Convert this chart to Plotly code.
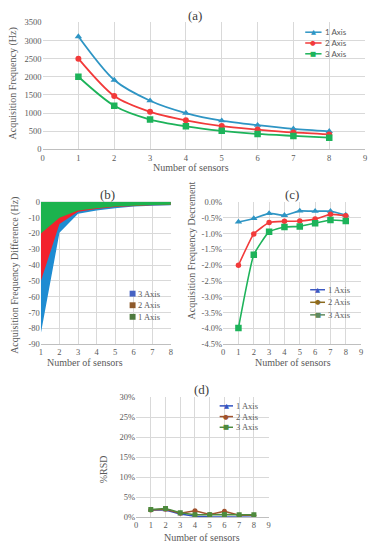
import plotly.graph_objects as go

W, H = 374, 550
sensors = [1, 2, 3, 4, 5, 6, 7, 8]
series = ["1 Axis", "2 Axis", "3 Axis"]

# (a) Acquisition frequency (Hz)
a_1 = [3110, 1910, 1340, 1000, 790, 665, 565, 495]
a_2 = [2500, 1470, 1035, 800, 640, 545, 465, 410]
a_3 = [2000, 1200, 820, 635, 510, 425, 370, 320]

# (b) Acquisition frequency difference (Hz)
b_1 = [-20, -10, -5.5, -4, -3, -2.3, -2, -1.8]
b_2 = [-50, -14, -6.2, -4.5, -3.3, -2.6, -2.2, -2]
b_3 = [-83, -19.5, -7.5, -5.5, -4, -3, -2.5, -2.2]

# (c) Acquisition frequency decrement (%)
c_1 = [-0.63, -0.52, -0.36, -0.42, -0.28, -0.29, -0.29, -0.41]
c_2 = [-2.0, -1.01, -0.65, -0.61, -0.60, -0.54, -0.39, -0.43]
c_3 = [-3.99, -1.67, -0.94, -0.79, -0.77, -0.67, -0.57, -0.60]

# (d) %RSD
d_1 = [1.8, 1.8, 0.8, 0.25, 0.1, 0.02, 0.02, 0.02]
d_2 = [1.8, 2.0, 1.0, 1.6, 0.7, 1.5, 0.5, 0.5]
d_3 = [1.9, 2.2, 1.1, 0.6, 0.6, 0.7, 0.6, 0.6]

a_yticks = [0, 500, 1000, 1500, 2000, 2500, 3000, 3500]
b_yticks = [0, -10, -20, -30, -40, -50, -60, -70, -80, -90]
b_ylabels = ["0", "-10", "-20", "-30", "-40", "-50", "-60", "-70", "-80", "-90"]
c_yticks = [0, -0.5, -1, -1.5, -2, -2.5, -3, -3.5, -4, -4.5]
c_ylabels = ["0.0%", "-0.5%", "-1.0%", "-1.5%", "-2.0%", "-2.5%", "-3.0%", "-3.5%", "-4.0%", "-4.5%"]
d_yticks = [0, 5, 10, 15, 20, 25, 30]
d_ylabels = ["0%", "5%", "10%", "15%", "20%", "25%", "30%"]
x09 = [0, 1, 2, 3, 4, 5, 6, 7, 8, 9]

SERIF = "Liberation Serif"
SANS = "Lato"
TICK = dict(family=SERIF, size=8.5, color="#595959")
GRID = "#D9D9D9"

def px(x):
    return x / W

def py(y):
    return 1 - y / H

fig = go.Figure()

col_a = ["#2E95C4", "#F23A3A", "#1DB35A"]
sym = ["triangle-up", "circle", "square"]
glyph = ["▲", "●", "■"]

# ---- (a)
for name, vals, c, s in zip(series, [a_1, a_2, a_3], col_a, sym):
    fig.add_trace(go.Scatter(x=sensors, y=vals, name=name, mode="lines+markers",
                             line=dict(color=c, width=1.8, shape="spline", smoothing=0.8),
                             marker=dict(symbol=s, size=6.5 if s != "circle" else 6, color=c),
                             xaxis="x", yaxis="y"))

# ---- (b)
fill_b = {"3 Axis": "#1E8CD2", "2 Axis": "#F2212C", "1 Axis": "#1CB34E"}
for name, vals in [("3 Axis", b_3), ("2 Axis", b_2), ("1 Axis", b_1)]:
    fig.add_trace(go.Scatter(x=sensors, y=vals, name=name, mode="lines", fill="tozeroy",
                             line=dict(width=0, color=fill_b[name]), fillcolor=fill_b[name],
                             xaxis="x2", yaxis="y2"))

# ---- (c)
for name, vals, c, s in zip(series, [c_1, c_2, c_3], col_a, sym):
    fig.add_trace(go.Scatter(x=sensors, y=vals, name=name, mode="lines+markers",
                             line=dict(color=c, width=1.6, shape="spline", smoothing=0.4),
                             marker=dict(symbol=s, size=6.5 if s != "circle" else 5.5, color=c),
                             xaxis="x3", yaxis="y3"))

# ---- (d)
col_d = ["#3353C0", "#A0522D", "#4E8A3E"]
for name, vals, c, s in zip(series, [d_1, d_2, d_3], col_d, sym):
    fig.add_trace(go.Scatter(x=sensors, y=vals, name=name, mode="lines+markers",
                             line=dict(color=c, width=1.5),
                             marker=dict(symbol=s, size=5, color=c),
                             xaxis="x4", yaxis="y4"))

def xax(dom, anchor, rng, tv, tt=None):
    d = dict(domain=[px(dom[0]), px(dom[1])], anchor=anchor, range=rng, tickvals=tv,
             showgrid=True, gridcolor=GRID, gridwidth=1, zeroline=False,
             showline=True, linecolor="#BFBFBF", linewidth=1, ticks="",
             tickfont=TICK, fixedrange=True)
    if tt is not None:
        d["ticktext"] = tt
    return d

def yax(dom, anchor, rng, tv, tt=None):
    d = dict(domain=[py(dom[1]), py(dom[0])], anchor=anchor, range=rng, tickvals=tv,
             showgrid=True, gridcolor=GRID, gridwidth=1, zeroline=False,
             showline=False, ticks="", tickfont=TICK, fixedrange=True)
    if tt is not None:
        d["ticktext"] = tt
    return d

fig.update_layout(
    width=W, height=H, margin=dict(l=0, r=0, t=0, b=0),
    paper_bgcolor="white", plot_bgcolor="white", showlegend=False,
    xaxis=xax((41, 367), "y", [0, 9], x09),
    yaxis=yax((17.7, 147), "x", [0, 3500], a_yticks),
    xaxis2=xax((39.3, 170.7), "y2", [1, 8], sensors),
    yaxis2=yax((200.5, 345.5), "x2", [-90, 0], b_yticks, b_ylabels),
    xaxis3=xax((223.5, 363), "y3", [0, 9], x09),
    yaxis3=yax((200.7, 345.5), "x3", [-4.5, 0], c_yticks, c_ylabels),
    xaxis4=xax((135.5, 269.5), "y4", [0, 9], x09),
    yaxis4=yax((399.3, 521.7), "x4", [0, 30], d_yticks, d_ylabels),
)

def ann(text, x, y, size, color="#595959", angle=0, xanchor="center", family=SERIF):
    fig.add_annotation(text=text, x=px(x), y=py(y), xref="paper", yref="paper",
                       showarrow=False, textangle=angle, xanchor=xanchor, yanchor="middle",
                       font=dict(family=family, size=size, color=color))

ann("(a)", 195, 11, 13, "#404040")
ann("(b)", 107, 193, 13, "#404040")
ann("(c)", 293, 193, 13, "#404040")
ann("(d)", 202, 392, 13, "#404040")
ann("Number of sensors", 191, 166, 10)
ann("Number of sensors", 84, 364, 10)
ann("Number of sensors", 294, 364, 10)
ann("Number of sensors", 202, 542, 10)
ann("Acquisition Frequency (Hz)", 11, 80, 10, angle=-90)
ann("Acquisition Frequency Difference (Hz)", 13, 275, 10, angle=-90)
ann("Acquisition Frequency Decrement", 192, 250, 10, angle=-90)
ann("%RSD", 103, 473, 10, angle=-90)

# legend helper (line + glyph + label), layout decoration
def legend_line(x0, x1, ytop, dy, tx, colors, family, fsize):
    for i, (name, c, g) in enumerate(zip(series, colors, glyph)):
        yy = ytop + i * dy
        fig.add_shape(type="line", xref="paper", yref="paper",
                      x0=px(x0), x1=px(x1), y0=py(yy), y1=py(yy),
                      line=dict(color=c, width=1.5))
        ann(g, (x0 + x1) / 2, yy, 6.5, c, family="DejaVu Sans")
        ann(name, tx, yy, fsize, "#595959", xanchor="left", family=family)

legend_line(306.5, 323, 27.7, 11, 324.5, col_a, SANS, 8)
legend_line(311.5, 326.5, 290, 12.8, 327.5, ["#3C58C2", "#8C6A1E", "#5E8A5E"], SERIF, 8.5)
legend_line(220, 233.5, 408.3, 10.9, 234.5, col_d, SERIF, 8.5)

leg_b = [("3 Axis", "#4562C4"), ("2 Axis", "#8E5A2C"), ("1 Axis", "#4E7A3E")]
for i, (name, c) in enumerate(leg_b):
    yy = 294 + i * 11.8
    fig.add_shape(type="rect", xref="paper", yref="paper",
                  x0=px(129), x1=px(135), y0=py(yy - 3), y1=py(yy + 3),
                  line=dict(width=0), fillcolor=c)
    ann(name, 135.5, yy, 8.5, "#595959", xanchor="left")

fig.write_html("out.html", config={"displayModeBar": False},
               post_script="document.body.style.margin='0';document.body.style.overflow='hidden';")
